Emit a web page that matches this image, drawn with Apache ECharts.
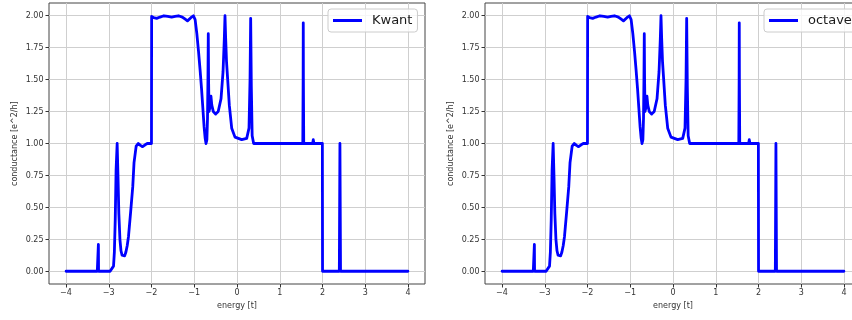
<!DOCTYPE html>
<html>
<head>
<meta charset="utf-8">
<script src="https://cdn.jsdelivr.net/npm/echarts@6/dist/echarts.min.js"></script>
<style>
  html, body { margin: 0; padding: 0; background: #fff; }
  #chart { width: 852px; height: 320px; }
</style>
</head>
<body>
<div id="chart"></div>
<script>
// Energy samples [t] (denser around the sharp resonances)
const energy = [
  -4.0, -3.27, -3.248, -3.244, -3.240, -2.97, -2.93, -2.89, -2.87, -2.85,
  -2.83, -2.805, -2.785, -2.765, -2.74, -2.715, -2.69, -2.66, -2.63, -2.60,
  -2.57, -2.54, -2.49, -2.44, -2.41, -2.36, -2.31, -2.26, -2.21, -2.15,
  -2.10, -2.002, -1.998, -1.95, -1.88, -1.80, -1.71, -1.62, -1.53, -1.45,
  -1.37, -1.28, -1.22, -1.16, -1.08, -1.02, -0.98, -0.94, -0.90, -0.865,
  -0.83, -0.80, -0.77, -0.745, -0.725, -0.705, -0.69, -0.68, -0.672, -0.665,
  -0.655, -0.635, -0.61, -0.59, -0.554, -0.50, -0.44, -0.374, -0.327, -0.297,
  -0.281, -0.265, -0.245, -0.218, -0.18, -0.124, -0.047, 0.11, 0.227, 0.281,
  0.305, 0.32, 0.335, 0.355, 0.39, 1.54, 1.548, 1.551, 1.554, 1.562,
  1.77, 1.785, 1.80, 1.998, 2.002, 2.395, 2.409, 2.423, 4.0
];

// Conductance from the Kwant calculation [e^2/h]
const kwantConductance = [
  0, 0, 0, 0.21, 0, 0, 0.01, 0.04, 0.15, 0.40,
  0.79, 1.0, 0.74, 0.45, 0.25, 0.16, 0.125, 0.11, 0.12, 0.15,
  0.20, 0.27, 0.46, 0.66, 0.85, 0.98, 1.0, 0.985, 0.975, 0.99,
  1.0, 1.0, 1.995, 1.985, 1.98, 1.99, 2.0, 1.995, 1.99, 1.995,
  2.0, 1.99, 1.975, 1.96, 1.985, 2.0, 1.97, 1.86, 1.72, 1.58,
  1.43, 1.28, 1.13, 1.04, 1.0, 1.03, 1.2, 1.5, 1.86, 1.5,
  1.25, 1.28, 1.37, 1.3, 1.25, 1.23, 1.25, 1.35, 1.56, 1.82,
  2.0, 1.82, 1.64, 1.5, 1.30, 1.12, 1.05, 1.03, 1.04, 1.12,
  1.5, 1.98, 1.45, 1.06, 1.0, 1.0, 1.5, 1.945, 1.5, 1.0,
  1.0, 1.03, 1.0, 1.0, 0, 0, 1.0, 0, 0
];

// Conductance from the octave calculation [e^2/h]
const octaveConductance = [
  0, 0, 0, 0.21, 0, 0, 0.01, 0.04, 0.15, 0.40,
  0.79, 1.0, 0.74, 0.45, 0.25, 0.16, 0.125, 0.11, 0.12, 0.15,
  0.20, 0.27, 0.46, 0.66, 0.85, 0.98, 1.0, 0.985, 0.975, 0.99,
  1.0, 1.0, 1.995, 1.985, 1.98, 1.99, 2.0, 1.995, 1.99, 1.995,
  2.0, 1.99, 1.975, 1.96, 1.985, 2.0, 1.97, 1.86, 1.72, 1.58,
  1.43, 1.28, 1.13, 1.04, 1.0, 1.03, 1.2, 1.5, 1.86, 1.5,
  1.25, 1.28, 1.37, 1.3, 1.25, 1.23, 1.25, 1.35, 1.56, 1.82,
  2.0, 1.82, 1.64, 1.5, 1.30, 1.12, 1.05, 1.03, 1.04, 1.12,
  1.5, 1.98, 1.45, 1.06, 1.0, 1.0, 1.5, 1.945, 1.5, 1.0,
  1.0, 1.03, 1.0, 1.0, 0, 0, 1.0, 0, 0
];

const seriesNames = ['Kwant', 'octave'];
const xLabel = 'energy [t]';
const yLabel = 'conductance [e^2/h]';

const FONT = 'DejaVu Sans';
const TEXT = '#333';
const GRIDLINE = '#cfcfcf';

const minus = v => String(v).replace('-', '\u2212');

const grids = [], xAxes = [], yAxes = [], series = [], legends = [];

function addPanel(offset, name, values) {
  const g0 = grids.length;
  const base = { outerBoundsMode: 'none', containLabel: false };
  // data area with frame
  grids.push(Object.assign({ left: 49 + offset, top: 3, width: 376, height: 281,
               show: true, borderColor: '#444', borderWidth: 1, backgroundColor: 'transparent' }, base));
  // x ticks region (-4 .. 4)
  grids.push(Object.assign({ left: 66 + offset, top: 3, width: 342, height: 281 }, base));
  // y ticks region (0 .. 2)
  grids.push(Object.assign({ left: 49 + offset, top: 15.7, width: 376, height: 256 }, base));

  xAxes.push({ gridIndex: g0, type: 'value', min: -4.4, max: 4.4, show: false });
  yAxes.push({ gridIndex: g0, type: 'value', min: -0.1, max: 2.1, show: false });

  xAxes.push({
    gridIndex: g0 + 1, type: 'value', min: -4, max: 4, interval: 1,
    axisLine: { show: false },
    axisTick: { show: true, length: 3.5, lineStyle: { color: TEXT, width: 1 } },
    axisLabel: { fontFamily: FONT, fontSize: 8, color: TEXT, margin: 5, formatter: minus },
    splitLine: { show: true, lineStyle: { color: GRIDLINE, width: 1 } },
    name: xLabel, nameLocation: 'middle', nameGap: 17,
    nameTextStyle: { fontFamily: FONT, fontSize: 8, color: TEXT }
  });
  yAxes.push({ gridIndex: g0 + 1, type: 'value', min: 0, max: 1, show: false });

  xAxes.push({ gridIndex: g0 + 2, type: 'value', min: 0, max: 1, show: false });
  yAxes.push({
    gridIndex: g0 + 2, type: 'value', min: 0, max: 2, interval: 0.25,
    axisLine: { show: false },
    axisTick: { show: true, length: 3.5, lineStyle: { color: TEXT, width: 1 } },
    axisLabel: { fontFamily: FONT, fontSize: 8, color: TEXT, margin: 5.5,
                 formatter: v => v.toFixed(2) },
    splitLine: { show: true, lineStyle: { color: GRIDLINE, width: 1 } },
    name: yLabel, nameLocation: 'middle', nameGap: 30,
    nameTextStyle: { fontFamily: FONT, fontSize: 8, color: TEXT }
  });

  series.push({
    name: name, type: 'line', xAxisIndex: g0, yAxisIndex: g0,
    data: energy.map((e, i) => [e, values[i]]),
    showSymbol: false, symbol: 'none', smooth: false, clip: true,
    lineStyle: { color: '#0000ff', width: 2.8, join: 'round', cap: 'round' },
    itemStyle: { color: '#0000ff' },
    z: 5, animation: false
  });

  legends.push({
    data: [name], left: 328 + offset, top: 9,
    orient: 'vertical', icon: 'rect', itemWidth: 29, itemHeight: 3,
    padding: [5, 5, 5, 5], borderColor: '#cccccc', borderWidth: 1, borderRadius: 3,
    backgroundColor: 'rgba(255,255,255,0.8)',
    textStyle: { fontFamily: FONT, fontSize: 13, color: '#1a1a1a', padding: [0, 0, 0, 5] },
    selectedMode: false
  });
}

addPanel(0, seriesNames[0], kwantConductance);
addPanel(436, seriesNames[1], octaveConductance);

const chart = echarts.init(document.getElementById('chart'), null, { renderer: 'canvas' });
chart.setOption({
  animation: false,
  backgroundColor: '#ffffff',
  grid: grids,
  xAxis: xAxes,
  yAxis: yAxes,
  legend: legends,
  series: series
});
</script>
</body>
</html>
